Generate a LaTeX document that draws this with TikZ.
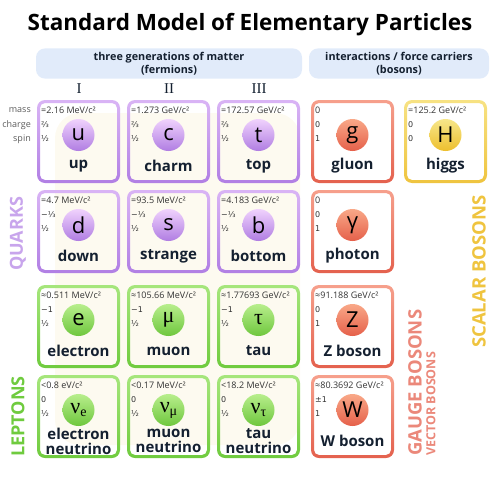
\documentclass[tikz,border=0pt]{standalone}
\usepackage{fontspec}
\setmainfont{Open Sans}
\newfontfamily\fracfont{DejaVu Sans}
\newfontfamily\serfont{Liberation Serif}
\usetikzlibrary{positioning}

\definecolor{quarktop}{HTML}{D9B4F5}
\definecolor{quarkbot}{HTML}{B17FE4}
\definecolor{quarkctop}{HTML}{F0D2FD}
\definecolor{quarkcbot}{HTML}{B07DE2}
\definecolor{leptontop}{HTML}{A6E67C}
\definecolor{leptonbot}{HTML}{6FCB3E}
\definecolor{leptonctop}{HTML}{B8EE8C}
\definecolor{leptoncbot}{HTML}{6FC73E}
\definecolor{gaugetop}{HTML}{F6A08C}
\definecolor{gaugebot}{HTML}{E4614E}
\definecolor{gaugectop}{HTML}{F9A888}
\definecolor{gaugecbot}{HTML}{E5604A}
\definecolor{higgstop}{HTML}{F7E283}
\definecolor{higgsbot}{HTML}{EFC43F}
\definecolor{higgsctop}{HTML}{F7E78A}
\definecolor{higgscbot}{HTML}{EDBF2E}
\definecolor{headblue}{HTML}{E1EBFA}
\definecolor{navy}{HTML}{142030}
\definecolor{txtgray}{HTML}{333333}
\definecolor{cream}{HTML}{FDFAF0}

\tikzset{
  pbox/.style={anchor=north west, minimum width=83pt, minimum height=83pt, inner sep=0pt, outer sep=0pt},
  masstext/.style={anchor=west, inner sep=0pt, text=txtgray, font=\fontsize{9}{10}\selectfont},
  qtext/.style={anchor=west, inner sep=0pt, text=txtgray, font=\fracfont\fontsize{8}{9}\selectfont},
  symb/.style={circle, minimum size=32pt, inner sep=0pt, font=\fontsize{22}{22}\selectfont},
  pname/.style={align=center, inner sep=0pt, text=navy, font=\bfseries\fontsize{15}{15}\selectfont},
  rowlabel/.style={anchor=east, inner sep=0pt, text=txtgray!80, font=\fontsize{9}{10}\selectfont},
  headbox/.style={rounded corners=9pt, fill=headblue, minimum height=29pt, align=center, text=navy, font=\bfseries\fontsize{10.8}{13.5}\selectfont},
  gen/.style={text=navy, font=\serfont\fontsize{15}{15}\selectfont},
  sidelabel/.style={rotate=90, anchor=west, inner sep=0pt, font=\bfseries\fontsize{18}{18}\selectfont}
}

% name, x, y, family, mass, charge, spin, symbol, label
\newcommand{\particle}[9]{%
  \node[pbox] (#1) at (#2,#3) {};
  \shade[even odd rule, top color=#4top, bottom color=#4bot]
    [rounded corners=8pt] (#1.north west) rectangle (#1.south east)
    [rounded corners=5pt] ([shift={(3pt,-3pt)}]#1.north west) rectangle ([shift={(-3pt,3pt)}]#1.south east);
  \node[masstext] (#1mass) at ([shift={(4pt,-10pt)}]#1.north west) {#5};
  \node[qtext] (#1charge) at ([shift={(4pt,-25pt)}]#1.north west) {#6};
  \node[qtext] (#1spin) at ([shift={(4pt,-39pt)}]#1.north west) {#7};
  \node[symb, top color=#4ctop, bottom color=#4cbot] (#1sym) at ([yshift=-35pt]#1.north) {#8};
  \node[pname] (#1name) at ([yshift=-66pt]#1.north) {#9};
}
\newcommand{\nusym}[1]{{\serfont ν\raisebox{-3pt}{\fontsize{14}{14}\selectfont #1}}}

\begin{document}
\begin{tikzpicture}[x=1pt, y=-1pt]
  \useasboundingbox (0,0) rectangle (500,479);
  % faint background
  \fill[cream, rounded corners=25pt] (55,113) rectangle (300,445);

  % Title and headers
  \node[text=black, font=\bfseries\fontsize{22.5}{26}\selectfont] (title) at (250,25) {Standard Model of Elementary Particles};
  \node[headbox, minimum width=266pt] (fermhead) at (169,63.5) {three generations of matter\\(fermions)};
  \node[headbox, minimum width=180pt] (boshead) at (399,63.5) {interactions / force carriers\\(bosons)};
  \node[gen] (genI) at (79,88.5) {I};
  \node[gen] (genII) at (169,88.5) {II};
  \node[gen] (genIII) at (259,88.5) {III};

  % Row labels
  \node[rowlabel] (lmass) at (31,110) {mass};
  \node[rowlabel] (lcharge) at (31,125) {charge};
  \node[rowlabel] (lspin) at (31,139) {spin};

  % Quarks
  \particle{u}{37}{100}{quark}{=2.16 MeV/c²}{⅔}{½}{u}{up}
  \particle{c}{127}{100}{quark}{=1.273 GeV/c²}{⅔}{½}{c}{charm}
  \particle{t}{217}{100}{quark}{=172.57 GeV/c²}{⅔}{½}{t}{top}
  \particle{d}{37}{190}{quark}{=4.7 MeV/c²}{−⅓}{½}{d}{down}
  \particle{s}{127}{190}{quark}{=93.5 MeV/c²}{−⅓}{½}{s}{strange}
  \particle{b}{217}{190}{quark}{=4.183 GeV/c²}{−⅓}{½}{b}{bottom}

  % Leptons
  \particle{e}{37}{285}{lepton}{≈0.511 MeV/c²}{−1}{½}{e}{electron}
  \particle{mu}{127}{285}{lepton}{≈105.66 MeV/c²}{−1}{½}{\serfont μ}{muon}
  \particle{tau}{217}{285}{lepton}{≈1.77693 GeV/c²}{−1}{½}{\serfont τ}{tau}
  \particle{nue}{37}{375}{lepton}{<0.8 eV/c²}{0}{½}{\nusym{e}}{electron\\neutrino}
  \particle{numu}{127}{375}{lepton}{<0.17 MeV/c²}{0}{½}{\nusym{μ}}{muon\\neutrino}
  \particle{nutau}{217}{375}{lepton}{<18.2 MeV/c²}{0}{½}{\nusym{τ}}{tau\\neutrino}

  % Gauge bosons
  \particle{g}{311}{100}{gauge}{0}{0}{1}{g}{gluon}
  \particle{gamma}{311}{190}{gauge}{0}{0}{1}{γ}{photon}
  \particle{Z}{311}{285}{gauge}{≈91.188 GeV/c²}{0}{1}{Z}{Z boson}
  \particle{W}{311}{375}{gauge}{≈80.3692 GeV/c²}{±1}{1}{W}{W boson}

  % Scalar boson
  \particle{H}{404}{100}{higgs}{=125.2 GeV/c²}{0}{0}{H}{higgs}

  % Side labels
  \node[sidelabel, text=quarkbot!70] (quarks) at (18,271) {QUARKS};
  \node[sidelabel, text=leptonbot] (leptons) at (18,457) {LEPTONS};
  \node[sidelabel, text=gaugebot!75, font=\bfseries\fontsize{18.5}{18.5}\selectfont] (gauge) at (415,456) {GAUGE BOSONS};
  \node[sidelabel, text=gaugebot!75, font=\bfseries\fontsize{12.5}{12.5}\selectfont] (vector) at (431,456) {VECTOR BOSONS};
  \node[sidelabel, text=higgsbot, font=\bfseries\fontsize{18.5}{18.5}\selectfont] (scalar) at (479,348) {SCALAR BOSONS};
\end{tikzpicture}
\end{document}
